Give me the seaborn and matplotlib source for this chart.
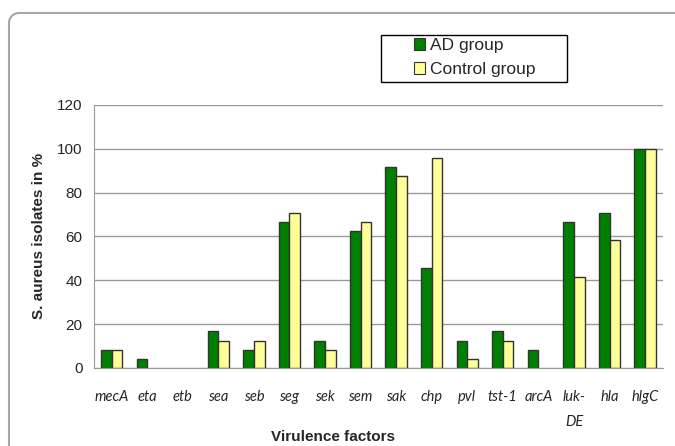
import pandas as pd
import matplotlib.pyplot as plt
import seaborn as sns
from matplotlib.lines import Line2D
from matplotlib.patches import Patch, Rectangle, Arc

factors = ['mecA', 'eta', 'etb', 'sea', 'seb', 'seg', 'sek', 'sem',
           'sak', 'chp', 'pvl', 'tst-1', 'arcA', 'luk-DE', 'hla', 'hlgC']
tick_labels = ['mecA', 'eta', 'etb', 'sea', 'seb', 'seg', 'sek', 'sem',
               'sak', 'chp', 'pvl', 'tst-1', 'arcA', 'luk-\nDE', 'hla', 'hlgC']
ad_group = [8.3, 4.2, 0, 16.7, 8.3, 66.7, 12.5, 62.5,
            91.7, 45.8, 12.5, 16.7, 8.3, 66.7, 70.8, 100]
control_group = [8.3, 0, 0, 12.5, 12.5, 70.8, 8.3, 66.7,
                 87.5, 95.8, 4.2, 12.5, 0, 41.7, 58.3, 100]
groups = ['AD group', 'Control group']

df = pd.DataFrame({'factor': factors * 2,
                   'group': [groups[0]] * len(factors) + [groups[1]] * len(factors),
                   'value': ad_group + control_group})

sns.set_style('white')
plt.rcParams['font.family'] = ['Liberation Sans', 'DejaVu Sans']

palette = {'AD group': '#008000', 'Control group': '#FFFF99'}

fig = plt.figure(figsize=(6.75, 4.46), dpi=100, facecolor='white')
ax = fig.add_axes([0.139, 0.175, 0.843, 0.59])

sns.barplot(data=df, x='factor', y='value', hue='group', order=factors,
            hue_order=groups, palette=palette, width=0.6, gap=0,
            edgecolor='#333333', linewidth=1, saturation=1, ax=ax, legend=False)

# hide empty bars (no outline at zero)
for p in ax.patches:
    if p.get_height() == 0:
        p.set_visible(False)

ax.set_xlim(-0.5, len(factors) - 0.5)
ax.set_ylim(0, 120)
ax.set_yticks(range(0, 121, 20))
ax.yaxis.grid(True, color='#999999', linewidth=1)
ax.set_axisbelow(True)
for s in ['top', 'right']:
    ax.spines[s].set_visible(False)
ax.spines['left'].set_color('#999999')
ax.spines['bottom'].set_color('#999999')
ax.tick_params(axis='y', length=4, color='#999999', labelsize=11, pad=4)
ax.tick_params(axis='x', length=0, pad=16)
ax.set_xticks(range(len(factors)))
ax.set_xticklabels(tick_labels, fontstyle='italic', fontsize=10.5,
                   family=['Lato', 'DejaVu Sans'], va='top', linespacing=2.0)

ax.set_ylabel('S. aureus isolates in %', fontsize=11, fontweight='bold', labelpad=8)
ax.set_xlabel('Virulence factors', fontsize=11, fontweight='bold')
ax.xaxis.set_label_coords(0.42, -0.235)

# legend with a wide frame drawn separately
fig.add_artist(Rectangle((381 / 675, 1 - 82 / 446), 186 / 675, 47 / 446,
                         transform=fig.transFigure, facecolor='white',
                         edgecolor='black', lw=1))
handles = [Patch(facecolor=palette[g], edgecolor='#333333', linewidth=0.8, label=g)
           for g in groups]
leg = fig.legend(handles=handles, loc='upper left', bbox_to_anchor=(414 / 675, 1 - 38 / 446),
                 fontsize=12.5, frameon=False, handlelength=0.65,
                 handleheight=0.7, handletextpad=0.25, borderpad=0,
                 labelspacing=0.5, borderaxespad=0)

# outer frame (top and left edges)
fig.add_artist(Line2D([9 / 675, 9 / 675], [0, 1 - 23 / 446], color='#A6A6A6', lw=1.5))
fig.add_artist(Line2D([19 / 675, 1], [1 - 13 / 446, 1 - 13 / 446], color='#A6A6A6', lw=1.5))
fig.add_artist(Arc((19 / 675, 1 - 23 / 446), 20 / 675, 20 / 446, theta1=90, theta2=180,
                   color='#A6A6A6', lw=1.5, transform=fig.transFigure))

fig.savefig('out.png', dpi=100, facecolor='white')
